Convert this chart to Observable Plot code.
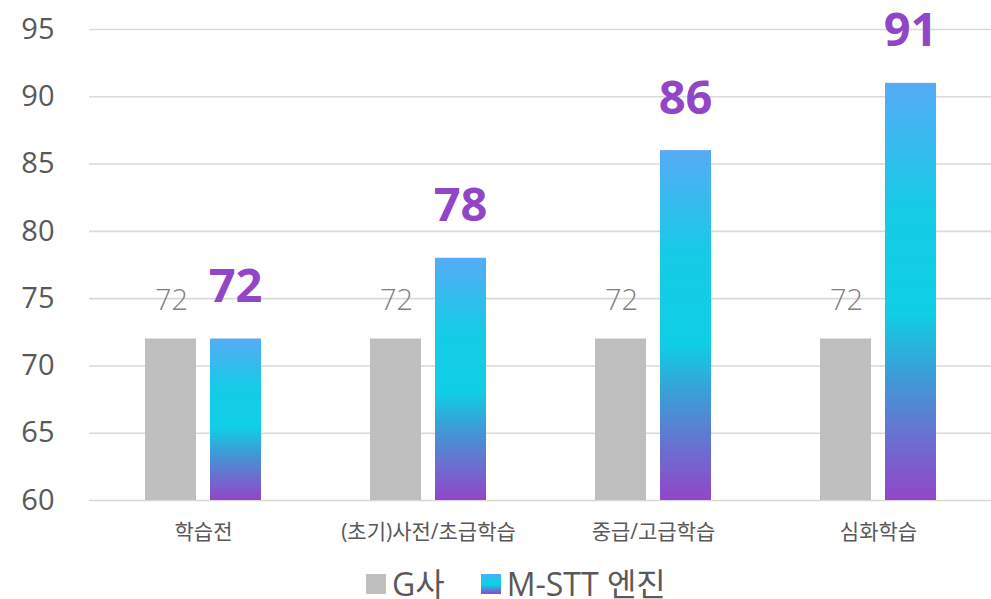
<!DOCTYPE html>
<html>
<head>
<meta charset="utf-8">
<script src="https://cdn.jsdelivr.net/npm/d3@7"></script>
<script src="https://cdn.jsdelivr.net/npm/@observablehq/plot@0.6"></script>
<style>
  html, body { margin: 0; padding: 0; background: #fff; }
  body { width: 991px; font-family: "Open Sans", "Noto Sans CJK KR", sans-serif; }
  #legend { display: flex; align-items: center; margin-left: 366px; margin-top: 20px; height: 32px; line-height: 1; color: #595959; font-size: 32px; }
  .sw { width: 20px; height: 20px; margin-right: 6px; }
  .item { display: flex; align-items: center; margin-right: 36px; }
</style>
</head>
<body>
<div id="chart"></div>
<div id="legend"></div>
<script>
const categories = ["학습전", "(초기)사전/초급학습", "중급/고급학습", "심화학습"];
const gValues = [72, 72, 72, 72];
const mValues = [72, 78, 86, 91];
const seriesNames = ["G사", "M-STT 엔진"];
const yTicks = [60, 65, 70, 75, 80, 85, 90, 95];
const yDomain = [60, 95];

const gColor = "#bfbfbf";
const purple = "#9146c8";
const gradStops = [
  [0, "#56abf6"],
  [0.3, "#16cbe6"],
  [0.55, "#0fcfe5"],
  [0.7, "#3c9dd6"],
  [0.85, "#6a70d0"],
  [1, "#9146c8"]
];

const gData = categories.map((c, i) => ({cat: c, v: gValues[i]}));
const mData = categories.map((c, i) => ({cat: c, v: mValues[i]}));

const chart = Plot.plot({
  width: 991,
  height: 548,
  marginTop: 29,
  marginBottom: 48,
  marginLeft: 89,
  marginRight: 0,
  style: {fontFamily: "'Open Sans', 'Noto Sans CJK KR', sans-serif", background: "#fff", overflow: "visible"},
  x: {domain: categories, paddingInner: 0.486, paddingOuter: 0.243, label: null, tickSize: 0},
  y: {domain: yDomain, ticks: yTicks, label: null, tickSize: 0},
  marks: [
    Plot.ruleY(yTicks, {stroke: "#d9d9d9", strokeWidth: 1.6}),
    Plot.barY(gData, {x: "cat", y1: () => yDomain[0], y2: "v", fill: gColor, insetRight: 65}),
    Plot.barY(mData, {x: "cat", y1: () => yDomain[0], y2: "v", fill: "url(#mgrad)", insetLeft: 65}),
    Plot.text(gData, {x: "cat", y: "v", text: d => String(d.v), dx: -32, dy: -38, fontSize: 29, fill: "#808080", fontWeight: 300}),
    Plot.text(mData, {x: "cat", y: "v", text: d => String(d.v), dx: 32, dy: -52, fontSize: 47, fill: purple, fontWeight: 700}),
    Plot.axisY({ticks: yTicks, tickSize: 0, tickPadding: 35, fontSize: 29, color: "#595959", label: null}),
    Plot.axisX({tickSize: 0, tickPadding: 24, fontSize: 21, color: "#595959", label: null})
  ]
});

const svg = d3.select(chart);
const defs = svg.insert("defs", ":first-child");
const lg = defs.append("linearGradient").attr("id", "mgrad").attr("x1", 0).attr("y1", 0).attr("x2", 0).attr("y2", 1);
gradStops.forEach(([o, c]) => lg.append("stop").attr("offset", o).attr("stop-color", c));

document.getElementById("chart").appendChild(chart);

const legend = document.getElementById("legend");
const swFills = [gColor, "linear-gradient(to bottom, " + gradStops.map(([o, c]) => c + " " + (o * 100) + "%").join(", ") + ")"];
seriesNames.forEach((name, i) => {
  const item = document.createElement("div");
  item.className = "item";
  const sw = document.createElement("div");
  sw.className = "sw";
  sw.style.background = swFills[i];
  const t = document.createElement("span");
  t.textContent = name;
  item.appendChild(sw);
  item.appendChild(t);
  legend.appendChild(item);
});
</script>
</body>
</html>
